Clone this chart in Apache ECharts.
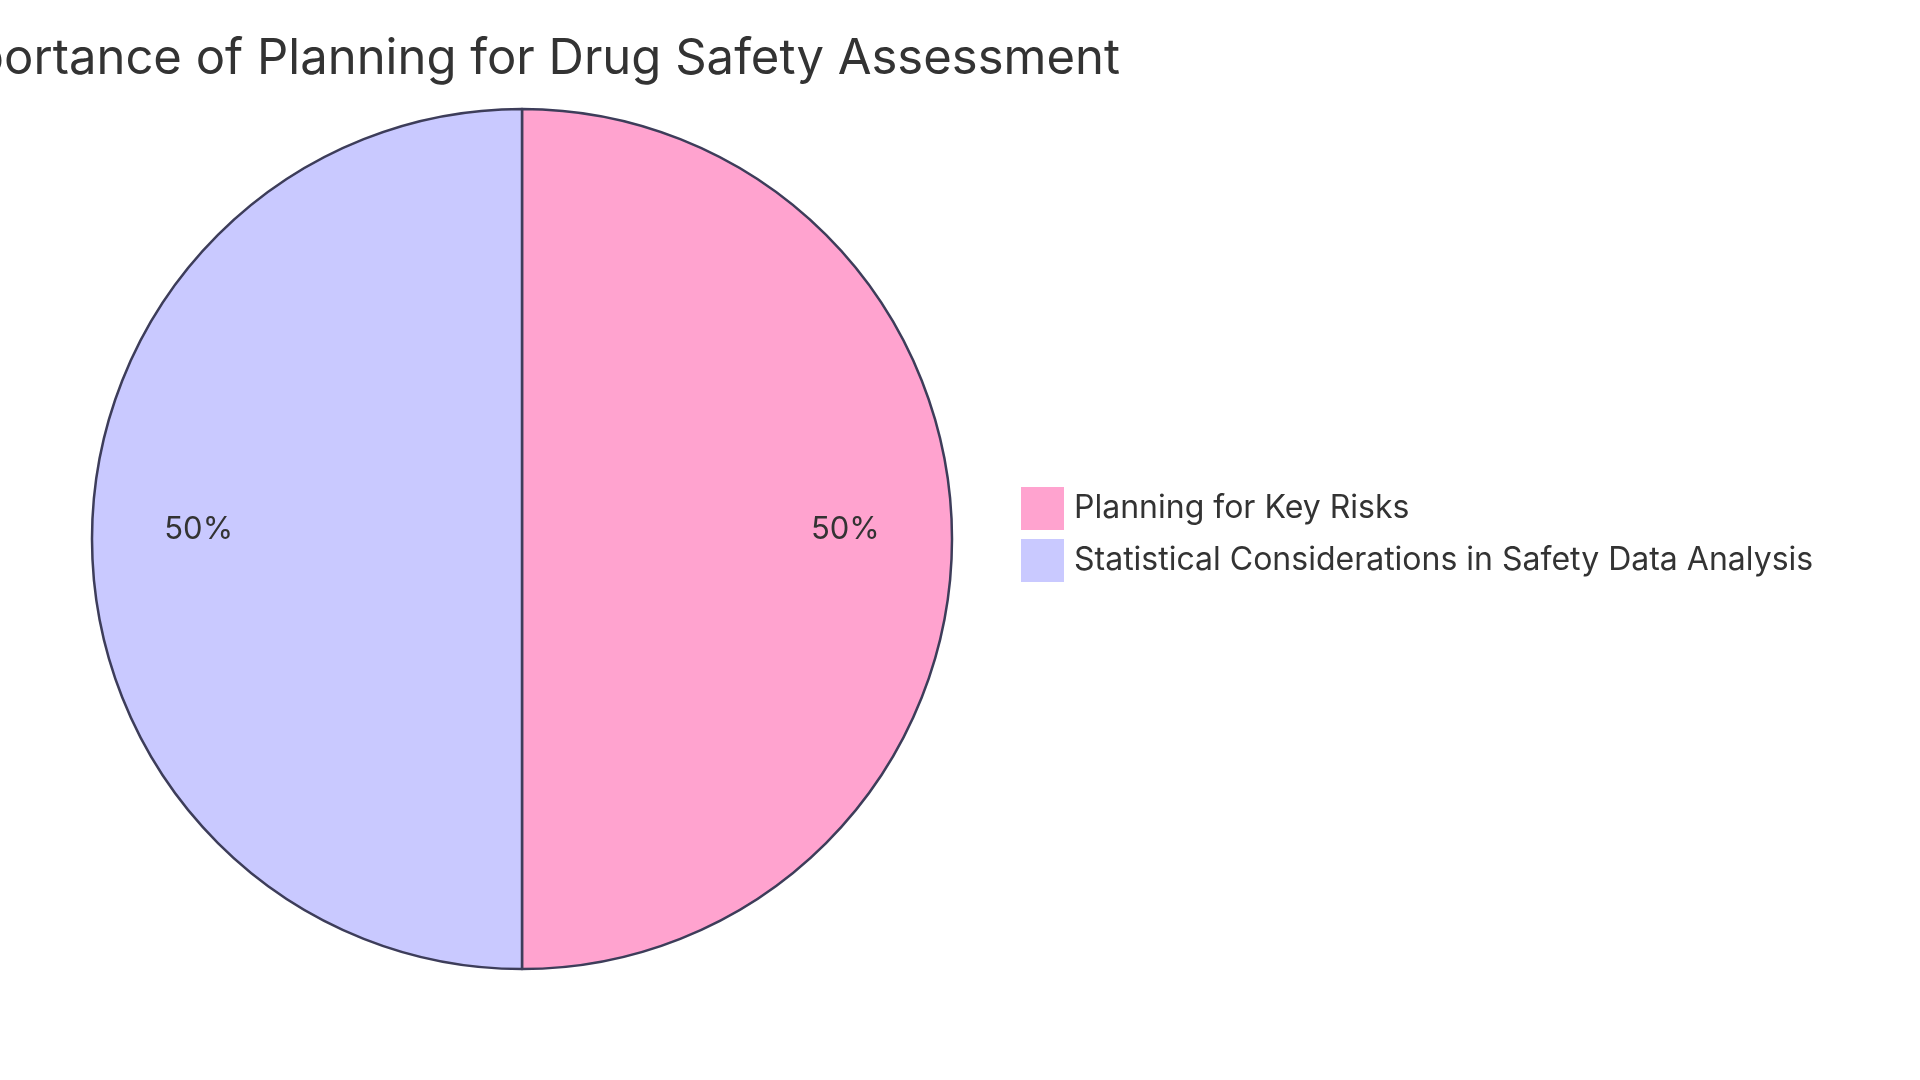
<!DOCTYPE html>
<html><head><meta charset="utf-8">
<script src="https://cdn.jsdelivr.net/npm/echarts@6/dist/echarts.min.js"></script>
<style>html,body{margin:0;padding:0;background:#fff}#c{width:1920px;height:1080px}</style>
</head><body><div id="c"></div>
<script>
const titleText = "The Importance of Planning for Drug Safety Assessment";
const categories = ["Planning for Key Risks", "Statistical Considerations in Safety Data Analysis"];
const values = [50, 50];
const colors = ["#FFA3CF", "#C9C9FF"];

const cx = 522, cy = 539, R = 430;
const data = categories.map((n, i) => ({ name: n, value: values[i], itemStyle: { color: colors[i] } }));
const FONT = "Inter, 'Noto Sans', sans-serif";
const chart = echarts.init(document.getElementById('c'), null, { renderer: 'canvas' });
chart.setOption({
  backgroundColor: '#ffffff',
  animation: false,
  graphic: [{
    type: 'text', x: 1120, y: 59,
    style: { text: titleText, fontSize: 49, fontFamily: FONT, fill: '#333333', align: 'right', verticalAlign: 'middle' }
  }],
  legend: {
    orient: 'vertical', left: 1021, top: 487, padding: 0,
    itemWidth: 43, itemHeight: 43, itemGap: 9, icon: 'rect',
    itemStyle: { borderWidth: 0 },
    textStyle: { fontSize: 32, fontFamily: FONT, color: '#333333', padding: [0, 0, 0, 5] },
    data: categories
  },
  series: [{
    type: 'pie', center: [cx, cy], radius: [0, R], startAngle: 90, clockwise: true,
    label: { show: false }, labelLine: { show: false },
    itemStyle: { borderColor: '#3d3d5a', borderWidth: 2.5 },
    emphasis: { disabled: true },
    data: data
  }, {
    type: 'pie', center: [cx, cy], radius: [R * 0.49, R], startAngle: 90, clockwise: true, silent: true,
    itemStyle: { color: 'rgba(0,0,0,0)', borderWidth: 0 },
    label: { show: true, position: 'inside', formatter: '{d}%', fontSize: 31, fontFamily: FONT, color: '#333333', offset: [0, -9] },
    labelLine: { show: false },
    emphasis: { disabled: true },
    data: categories.map((n, i) => ({ name: n, value: values[i] }))
  }]
});
</script></body></html>
